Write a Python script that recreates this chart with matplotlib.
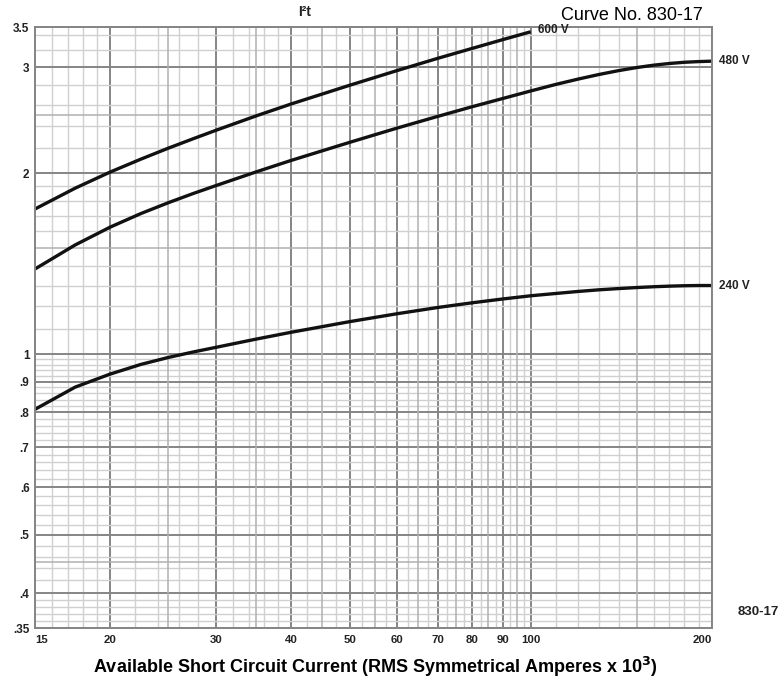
import numpy as np
import matplotlib.pyplot as plt
from matplotlib.ticker import FixedLocator, FixedFormatter, NullFormatter

# current, kA (RMS symmetrical)
amps = [15, 17.5, 20, 22.5, 25, 27.5, 30, 35, 40, 50, 60, 70, 80, 90, 100,
        110, 120, 130, 140, 150, 160, 170, 180, 190, 200]
amps_600 = amps[:15]

# I2t let-through
i2t_600 = [1.743, 1.888, 2.008, 2.110, 2.201, 2.282, 2.357, 2.491, 2.607, 2.800,
           2.963, 3.104, 3.226, 3.337, 3.437]
i2t_480 = [1.385, 1.519, 1.626, 1.713, 1.786, 1.850, 1.907, 2.010, 2.100, 2.250,
           2.377, 2.485, 2.580, 2.663, 2.740, 2.809, 2.868, 2.919, 2.962, 2.997,
           3.024, 3.044, 3.058, 3.066, 3.071]
i2t_240 = [0.809, 0.881, 0.926, 0.961, 0.987, 1.008, 1.026, 1.059, 1.087, 1.132,
           1.167, 1.195, 1.217, 1.235, 1.250, 1.261, 1.271, 1.279, 1.285, 1.290,
           1.294, 1.297, 1.299, 1.300, 1.300]

x_ticks = [15, 20, 30, 40, 50, 60, 70, 80, 90, 100, 200]
x_labels = ['15', '20', '30', '40', '50', '60', '70', '80', '90', '100', '200']
y_ticks = [0.35, 0.4, 0.5, 0.6, 0.7, 0.8, 0.9, 1, 2, 3, 3.5]
y_labels = ['.35', '.4', '.5', '.6', '.7', '.8', '.9', '1', '2', '3', '3.5']

# graph paper lines
x_mid = [25, 35, 45, 55, 65, 75, 85, 95, 150]
x_minor = ([16, 17, 18, 19, 22, 24, 26, 28, 32, 34, 36, 38, 42.5, 47.5]
           + [52.5, 57.5, 62.5, 67.5, 72.5, 77.5, 82.5, 87.5, 92.5, 97.5]
           + [110, 120, 130, 140, 160, 170, 180, 190])
y_mid = [2.5, 1.5, 0.45]
y_minor = ([3.2, 3.4, 2.2, 2.4, 2.6, 2.8, 1.1, 1.2, 1.3, 1.4, 1.6, 1.7, 1.8, 1.9]
           + [0.36, 0.37, 0.38, 0.39, 0.42, 0.44, 0.46, 0.48, 0.52, 0.54, 0.56, 0.58,
              0.62, 0.64, 0.66, 0.68, 0.72, 0.74, 0.76, 0.78, 0.82, 0.84, 0.86, 0.88,
              0.92, 0.94, 0.96, 0.98])

fig = plt.figure(figsize=(7.84, 6.81), dpi=100)
ax = fig.add_axes([0.0446, 0.0778, 0.8635, 0.8825])
ax.set_xscale('log')
ax.set_yscale('log')
ax.set_xlim(15, 200)
ax.set_ylim(0.35, 3.5)

ax.xaxis.set_major_locator(FixedLocator(x_ticks))
ax.xaxis.set_major_formatter(FixedFormatter(x_labels))
ax.xaxis.set_minor_locator(FixedLocator(x_minor))
ax.xaxis.set_minor_formatter(NullFormatter())
ax.yaxis.set_major_locator(FixedLocator(y_ticks))
ax.yaxis.set_major_formatter(FixedFormatter(y_labels))
ax.yaxis.set_minor_locator(FixedLocator(y_minor))
ax.yaxis.set_minor_formatter(NullFormatter())

ax.grid(which='major', color='#858585', lw=1.4)
ax.grid(which='minor', color='#d0d0d0', lw=1.0)
for v in x_mid:
    ax.axvline(v, color='#b0b0b0', lw=1.1, zorder=0.6)
for v in y_mid:
    ax.axhline(v, color='#b0b0b0', lw=1.1, zorder=0.6)
ax.set_axisbelow(True)

for s in ax.spines.values():
    s.set_color('#858585')
    s.set_linewidth(1.4)

ax.tick_params(which='both', length=0)
ax.tick_params(axis='x', pad=5)
ax.tick_params(axis='y', pad=4)
for lab in ax.get_xticklabels():
    lab.set_fontweight('bold')
    lab.set_fontsize(8.2)
    lab.set_family('Liberation Sans')
    lab.set_color('#222222')
for lab in ax.get_yticklabels():
    lab.set_fontweight('bold')
    lab.set_fontsize(8.5)
    lab.set_family('Liberation Sans')
    lab.set_color('#222222')
ax.get_xticklabels()[0].set_horizontalalignment('left')
ax.get_xticklabels()[-1].set_horizontalalignment('right')

ax.plot(amps_600, i2t_600, color='#111111', lw=2.4, solid_capstyle='butt')
ax.plot(amps, i2t_480, color='#111111', lw=2.4, solid_capstyle='butt')
ax.plot(amps, i2t_240, color='#111111', lw=2.4, solid_capstyle='butt')

lab_kw = dict(textcoords='offset points', fontsize=8.5, fontweight='bold',
              family='Liberation Sans', va='center', ha='left', color='#222222')
ax.annotate('600 V', (amps_600[-1], i2t_600[-1]), xytext=(5, 1), **lab_kw)
ax.annotate('480 V', (amps[-1], i2t_480[-1]), xytext=(5, 0), **lab_kw)
ax.annotate('240 V', (amps[-1], i2t_240[-1]), xytext=(5, 0), **lab_kw)

fig.text(305 / 784, 1 - 12 / 681, 'I²t', ha='center', va='center', fontsize=10,
         fontweight='bold', family='Liberation Sans', color='#222222')
fig.text(703 / 784, 1 - 15 / 681, 'Curve No. 830-17', ha='right', va='center',
         fontsize=13, family='Liberation Sans')
fig.text(758 / 784, 1 - 612 / 681, '830-17', ha='center', va='center', fontsize=9.5,
         fontweight='bold', family='Liberation Sans', color='#222222')
fig.text(375 / 784, 1 - 667 / 681,
         'Available Short Circuit Current (RMS Symmetrical Amperes x 10$^\\mathbf{3}$)',
         ha='center', va='center', fontsize=13, fontweight='bold', family='Liberation Sans')

fig.savefig('out.png', dpi=100)
